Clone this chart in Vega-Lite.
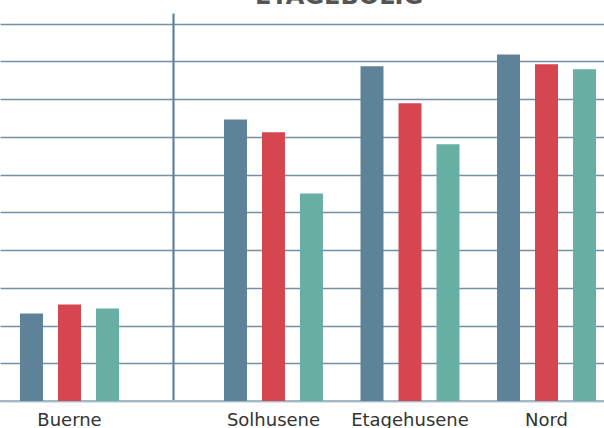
{
  "$schema": "https://vega.github.io/schema/vega-lite/v6.json",
  "autosize": {"type": "none"},
  "width": 604,
  "height": 388,
  "padding": {"top": 13, "left": 0, "right": 0, "bottom": 27},
  "title": {
    "text": "ETAGEBOLIG",
    "font": "DejaVu Sans",
    "fontSize": 24,
    "fontWeight": "bold",
    "color": "#555555",
    "anchor": "middle",
    "baseline": "alphabetic",
    "offset": -15,
    "dx": 37
  },
  "config": {
    "view": {"stroke": null},
    "axis": {"labelFont": "DejaVu Sans", "labelColor": "#333333"}
  },
  "data": {
    "values": [
      {"omrade": "Buerne", "serie": "Serie 1", "vaerdi": 2.32},
      {"omrade": "Buerne", "serie": "Serie 2", "vaerdi": 2.56},
      {"omrade": "Buerne", "serie": "Serie 3", "vaerdi": 2.45},
      {"omrade": "Solhusene", "serie": "Serie 1", "vaerdi": 7.46},
      {"omrade": "Solhusene", "serie": "Serie 2", "vaerdi": 7.12},
      {"omrade": "Solhusene", "serie": "Serie 3", "vaerdi": 5.5},
      {"omrade": "Etagehusene", "serie": "Serie 1", "vaerdi": 8.87},
      {"omrade": "Etagehusene", "serie": "Serie 2", "vaerdi": 7.89},
      {"omrade": "Etagehusene", "serie": "Serie 3", "vaerdi": 6.8},
      {"omrade": "Nord", "serie": "Serie 1", "vaerdi": 9.18},
      {"omrade": "Nord", "serie": "Serie 2", "vaerdi": 8.92},
      {"omrade": "Nord", "serie": "Serie 3", "vaerdi": 8.79}
    ]
  },
  "layer": [
    {
      "mark": {"type": "rule", "color": "#a3b8c6", "strokeWidth": 1.5},
      "encoding": {
        "y": {
          "datum": 0, "type": "quantitative",
          "scale": {"domain": [0, 10.28], "nice": false, "zero": true},
          "axis": {"orient": "left", "title": null, "values": [0,1,2,3,4,5,6,7,8,9,10], "grid": true, "gridColor": "#7391a5", "gridWidth": 1.5, "domain": false, "ticks": false, "labels": false, "zindex": 0}
        }
      }
    },
    {
      "transform": [{"filter": "datum.omrade === 'Buerne'"}],
      "mark": {"type": "bar"},
      "encoding": {
        "x": {
          "field": "omrade", "type": "nominal", "sort": null,
          "scale": {"range": [20, 119], "paddingInner": 0, "paddingOuter": 0},
          "axis": {"orient": "bottom", "title": null, "domain": false, "ticks": false, "grid": false, "labelFontSize": 18, "labelPadding": 10, "labelAngle": 0}
        },
        "xOffset": {
          "field": "serie", "type": "nominal",
          "scale": {"paddingInner": 0.395, "paddingOuter": 0}
        },
        "y": {
          "field": "vaerdi", "type": "quantitative",
          "axis": null
        },
        "color": {
          "field": "serie", "type": "nominal", "legend": null,
          "scale": {"domain": ["Serie 1", "Serie 2", "Serie 3"], "range": ["#5e8399", "#d54650", "#66afa2"]}
        }
      }
    },
    {
      "transform": [{"filter": "datum.omrade !== 'Buerne'"}],
      "mark": {"type": "bar"},
      "encoding": {
        "x": {
          "field": "omrade", "type": "nominal", "sort": null,
          "scale": {"range": [224, 596], "paddingInner": 0.275, "paddingOuter": 0},
          "axis": {"orient": "bottom", "title": null, "domain": false, "ticks": false, "grid": false, "labelFontSize": 18, "labelPadding": 10, "labelAngle": 0}
        },
        "xOffset": {
          "field": "serie", "type": "nominal",
          "scale": {"paddingInner": 0.395, "paddingOuter": 0}
        },
        "y": {
          "field": "vaerdi", "type": "quantitative",
          "axis": {"orient": "left", "title": null, "offset": -173, "grid": false, "domain": true, "domainColor": "#5e8299", "domainWidth": 2.2, "ticks": false, "labels": false, "zindex": 0}
        },
        "color": {
          "field": "serie", "type": "nominal", "legend": null
        }
      }
    }
  ],
  "resolve": {
    "scale": {"x": "independent", "xOffset": "independent"},
    "axis": {"x": "independent", "y": "independent"}
  }
}
